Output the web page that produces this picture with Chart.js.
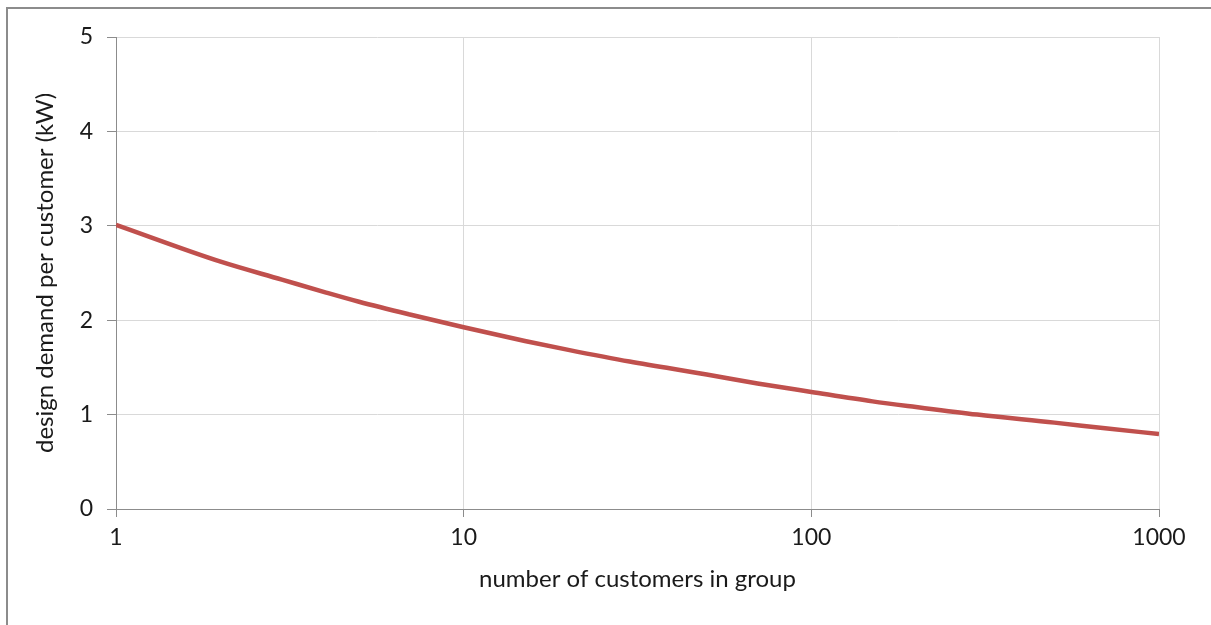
<!DOCTYPE html>
<html>
<head>
<meta charset="utf-8">
<script src="https://cdn.jsdelivr.net/npm/chart.js@4/dist/chart.umd.min.js"></script>
<style>
  html, body { margin: 0; padding: 0; background: #fff; }
  #wrap { position: relative; width: 1211px; height: 625px; overflow: hidden; }
  #frame { position: absolute; left: 6px; top: 7px; width: 1300px; height: 700px;
           border-left: 2px solid #8c8c8c; border-top: 2px solid #8c8c8c; pointer-events: none; }
  canvas { position: absolute; left: 0; top: 0; }
</style>
</head>
<body>
<div id="wrap">
  <canvas id="c" width="1211" height="625"></canvas>
  <div id="frame"></div>
</div>
<script>
const customers = [1, 2, 3, 4, 5, 7, 10, 15, 20, 30, 50, 70, 100, 150, 200, 300, 500, 700, 1000];
const demandKW  = [3.01, 2.62, 2.43, 2.295, 2.195, 2.06, 1.925, 1.78, 1.686, 1.562, 1.425, 1.33, 1.24, 1.14, 1.08, 1.0, 0.915, 0.855, 0.794];
const xTicks = [1, 10, 100, 1000];
const yTicks = [0, 1, 2, 3, 4, 5];
const xTitle = 'number of customers in group';
const yTitle = 'design demand per customer (kW)';

const FONT = 'Lato, "Open Sans", sans-serif';
const TXT = '#1a1a1a';

new Chart(document.getElementById('c'), {
  type: 'line',
  data: {
    datasets: [{
      data: customers.map((n, i) => ({ x: n, y: demandKW[i] })),
      borderColor: '#C0504D',
      borderWidth: 4.5,
      pointRadius: 0,
      fill: false,
      cubicInterpolationMode: 'monotone'
    }]
  },
  options: {
    responsive: false,
    animation: false,
    devicePixelRatio: 1,
    layout: { padding: { left: 0, right: 52, top: 37, bottom: 0 } },
    plugins: { legend: { display: false }, tooltip: { enabled: false } },
    scales: {
      x: {
        type: 'logarithmic',
        min: 1, max: 1000,
        afterBuildTicks: s => { s.ticks = xTicks.map(v => ({ value: v })); },
        afterFit: s => { s.height = 116; },
        grid: { color: '#d9d9d9', lineWidth: 1, tickColor: '#8c8c8c', tickLength: 8 },
        border: { color: '#8c8c8c', width: 1 },
        ticks: {
          color: TXT, font: { family: FONT, size: 23 }, padding: 7,
          maxRotation: 0, autoSkip: false,
          callback: v => String(v)
        },
        title: { display: true, text: xTitle, color: TXT, font: { family: FONT, size: 24 }, padding: { top: 0, bottom: 31 } }
      },
      y: {
        min: 0, max: 5,
        afterBuildTicks: s => { s.ticks = yTicks.map(v => ({ value: v })); },
        afterFit: s => { s.width = 116; },
        grid: { color: '#d9d9d9', lineWidth: 1, tickColor: '#8c8c8c', tickLength: 9 },
        border: { color: '#8c8c8c', width: 1 },
        ticks: { color: TXT, font: { family: FONT, size: 23 }, padding: 14 },
        title: { display: true, text: yTitle, color: TXT, font: { family: FONT, size: 24 }, padding: { top: 31, bottom: 0 } }
      }
    }
  }
});
</script>
</body>
</html>
